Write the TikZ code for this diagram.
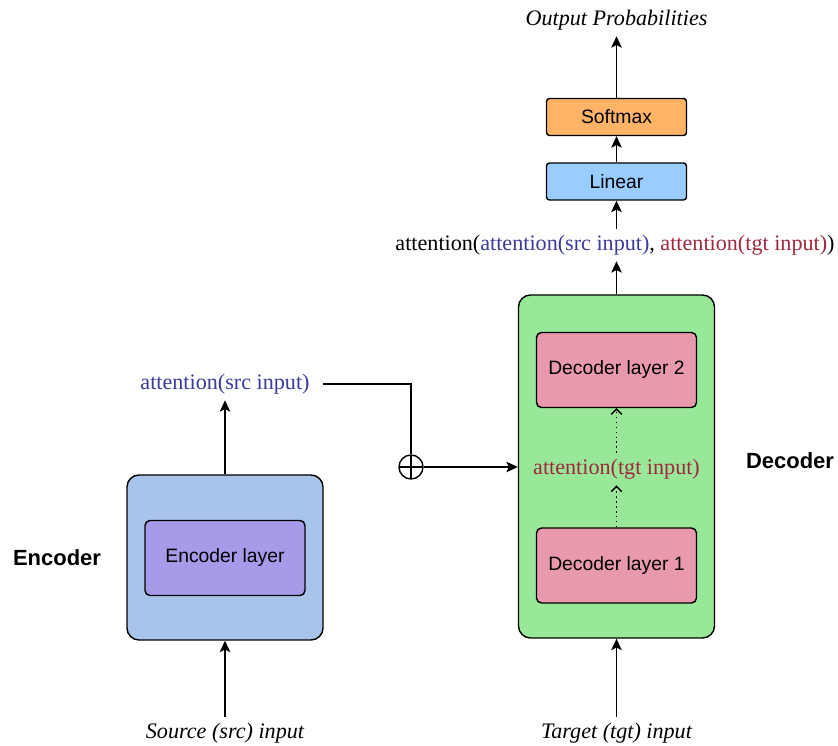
\documentclass[tikz,border=0pt]{standalone}
\usepackage{fontspec}
\setmainfont{Liberation Serif}
\setsansfont{Liberation Sans}
\usetikzlibrary{arrows.meta}
\definecolor{encout}{HTML}{A9C4EB}
\definecolor{enclayer}{HTML}{A59BE8}
\definecolor{decout}{HTML}{99E89A}
\definecolor{declayer}{HTML}{E899AB}
\definecolor{linblue}{HTML}{99CCFF}
\definecolor{softorange}{HTML}{FFB366}
\definecolor{srcblue}{HTML}{3A3A9C}
\definecolor{tgtred}{HTML}{A0283C}
\begin{document}
\begin{tikzpicture}
\tikzset{edge/.style = {-{Stealth[length=6.5pt,width=6pt,inset=1.5pt]}, thick}}
\tikzset{dotedge/.style = {-{Straight Barb[length=3pt,width=6pt]}, thick, dotted}}
\tikzset{outer/.style = {draw, thick, rounded corners=0.24cm, minimum width=3.92cm}}
\tikzset{layer/.style = {draw, thick, rounded corners=0.1cm, minimum width=3.2cm, minimum height=1.5cm, font=\sffamily\fontsize{11}{13}\selectfont}}
\tikzset{head/.style = {draw, thick, rounded corners=0.06cm, minimum width=2.8cm, minimum height=0.74cm, font=\sffamily\fontsize{11}{13}\selectfont}}
\tikzset{txt/.style = {font=\fontsize{12.6}{15}\selectfont}}
\tikzset{title/.style = {font=\sffamily\bfseries\fontsize{12.5}{15}\selectfont}}
\useasboundingbox (0,0) rectangle (16.76,14.92);
\node[outer, fill=encout, minimum height=3.3cm](enc) at (4.5,3.77) {};
\node[layer, fill=enclayer](encl) at (4.5,3.76) {Encoder layer};
\node[title](enct) at (1.14,3.76) {Encoder};
\node[txt](src) at (4.5,0.26) {\itshape Source (src) input};
\node[txt, text=srcblue](srcatt) at (4.5,7.24) {attention(src input)};
\node[draw, thick, circle, minimum size=0.48cm, inner sep=0pt,
  path picture={\draw[thick] (path picture bounding box.north) -- (path picture bounding box.south)
  (path picture bounding box.west) -- (path picture bounding box.east);}](plus) at (8.22,5.58) {};
\node[outer, fill=decout, minimum height=6.86cm](dec) at (12.33,5.59) {};
\node[layer, fill=declayer](dec2) at (12.33,7.52) {Decoder layer 2};
\node[layer, fill=declayer](dec1) at (12.33,3.61) {Decoder layer 1};
\node[txt, text=tgtred](tgtatt) at (12.33,5.54) {attention(tgt input)};
\node[title](dect) at (15.8,5.7) {Decoder};
\node[txt](tgt) at (12.33,0.26) {\itshape Target (tgt) input};
\node[txt](both) at (12.3,10.02) {attention(\textcolor{srcblue}{attention(src input)}, \textcolor{tgtred}{attention(tgt input)})};
\node[head, fill=linblue](lin) at (12.33,11.29) {Linear};
\node[head, fill=softorange](soft) at (12.33,12.58) {Softmax};
\node[txt](out) at (12.33,14.52) {\itshape Output Probabilities};
\draw[edge] (src) -- (enc);
\draw[edge] (enc) -- (srcatt);
\draw[thick, shorten <=4pt] (srcatt.east) -| (plus.north);
\draw[edge] (plus.east) -- (plus -| dec.west);
\draw[dotedge] (dec1) -- (tgtatt);
\draw[dotedge] (tgtatt) -- (dec2);
\draw[edge] (tgt) -- (dec);
\draw[edge] (dec.north) -- (both.south -| dec.north);
\draw[edge] (both.north -| lin.south) -- (lin);
\draw[edge] (lin) -- (soft);
\draw[edge] (soft) -- (out);
\end{tikzpicture}
\end{document}
